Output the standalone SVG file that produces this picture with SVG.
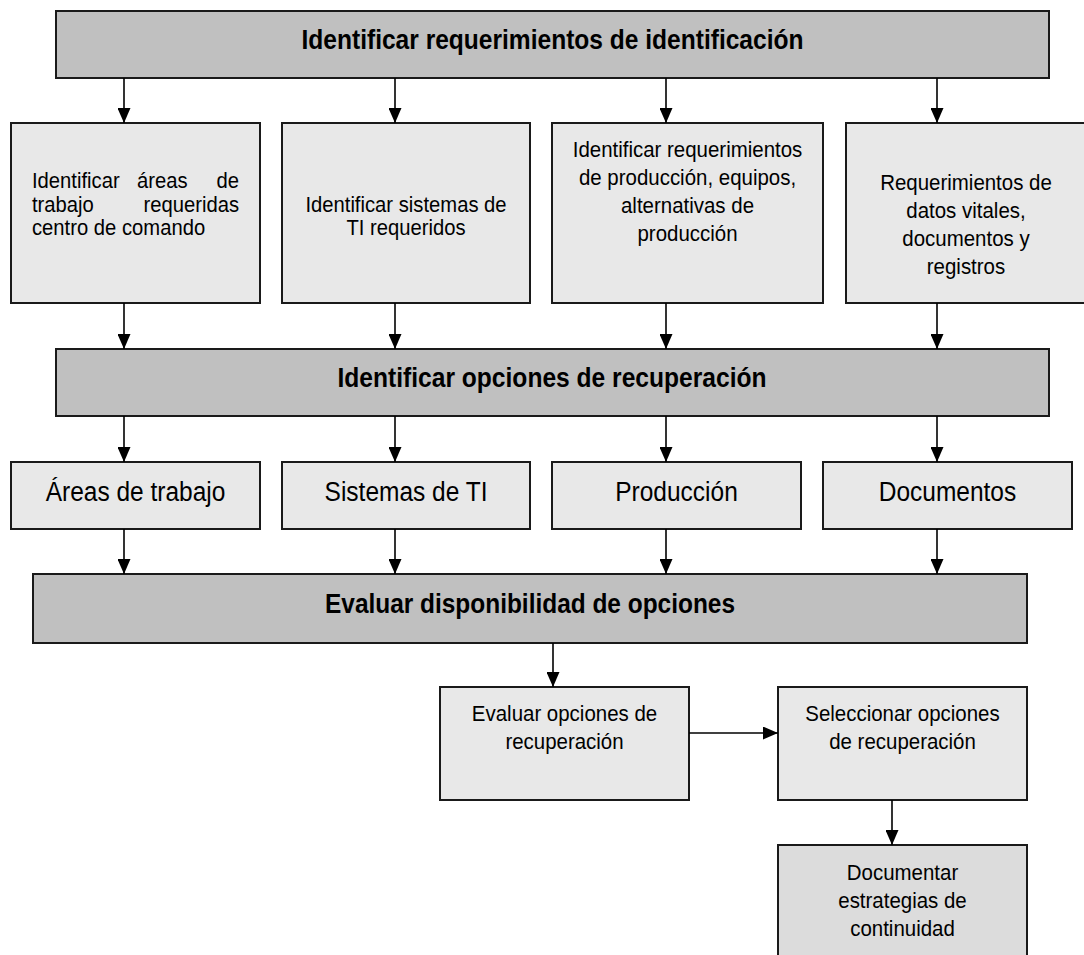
<svg xmlns="http://www.w3.org/2000/svg" width="1084" height="955" viewBox="0 0 1084 955">
  <style>
    .bar { fill: #c0c0c0; stroke: #1a1a1a; stroke-width: 2; }
    .box { fill: #e8e8e8; stroke: #1a1a1a; stroke-width: 2; }
    .box-dark { fill: #dcdcdc; stroke: #1a1a1a; stroke-width: 2; }
    .title { font-family: "Liberation Sans", Arial, sans-serif; font-weight: bold; font-size: 28px; fill: #000; }
    .t22 { font-family: "Liberation Sans", Arial, sans-serif; font-size: 22px; fill: #000; }
    .t28 { font-family: "Liberation Sans", Arial, sans-serif; font-size: 28px; fill: #000; }
    .link { stroke: #000; stroke-width: 1.6; fill: none; marker-end: url(#arrow); }
  </style>
  <defs>
    <marker id="arrow" markerUnits="userSpaceOnUse" markerWidth="15" markerHeight="13" refX="15" refY="6.5" orient="auto">
      <path d="M0,0 L15,6.5 L0,13 z" fill="#000"/>
    </marker>
  </defs>
  <rect width="1084" height="955" fill="#fff"/>

  <!-- Level 1 -->
  <g id="req-identificacion">
    <rect class="bar" x="56" y="11" width="993" height="67"/>
    <text class="title" x="552.5" y="49" text-anchor="middle" textLength="502" lengthAdjust="spacingAndGlyphs">Identificar requerimientos de identificación</text>
  </g>

  <!-- Requirement boxes -->
  <g id="areas-trabajo">
    <rect class="box" x="11" y="123" width="249" height="180"/>
    <text class="t22" transform="translate(32 188) scale(0.92 1)">Identificar</text>
    <text class="t22" transform="translate(137 188) scale(0.92 1)">áreas</text>
    <text class="t22" text-anchor="end" transform="translate(239 188) scale(0.92 1)">de</text>
    <text class="t22" transform="translate(32 212) scale(0.92 1)">trabajo</text>
    <text class="t22" text-anchor="end" transform="translate(239 212) scale(0.92 1)">requeridas</text>
    <text class="t22" transform="translate(32 235) scale(0.92 1)">centro de comando</text>
  </g>
  <g id="sistemas-ti">
    <rect class="box" x="282" y="123" width="248" height="180"/>
    <g transform="translate(406 0) scale(0.92 1)">
      <text class="t22" text-anchor="middle"><tspan x="0" y="212">Identificar sistemas de</tspan><tspan x="0" y="235">TI requeridos</tspan></text>
    </g>
  </g>
  <g id="req-produccion">
    <rect class="box" x="552" y="123" width="271" height="180"/>
    <g transform="translate(687.5 0) scale(0.93 1)">
      <text class="t22" text-anchor="middle"><tspan x="0" y="157">Identificar requerimientos</tspan><tspan x="0" y="185">de producción, equipos,</tspan><tspan x="0" y="213">alternativas de</tspan><tspan x="0" y="241">producción</tspan></text>
    </g>
  </g>
  <g id="req-datos">
    <rect class="box" x="846" y="123" width="240" height="180"/>
    <g transform="translate(966 0) scale(0.93 1)">
      <text class="t22" text-anchor="middle"><tspan x="0" y="190">Requerimientos de</tspan><tspan x="0" y="218">datos vitales,</tspan><tspan x="0" y="246">documentos y</tspan><tspan x="0" y="274">registros</tspan></text>
    </g>
  </g>

  <!-- Level 2 -->
  <g id="opciones-recuperacion">
    <rect class="bar" x="56" y="349" width="993" height="67"/>
    <text class="title" x="552" y="387" text-anchor="middle" textLength="429" lengthAdjust="spacingAndGlyphs">Identificar opciones de recuperación</text>
  </g>

  <!-- Option categories -->
  <g id="opt-areas">
    <rect class="box" x="11" y="462" width="249" height="67"/>
    <text class="t28" text-anchor="middle" transform="translate(135.5 501) scale(0.875 1)">Áreas de trabajo</text>
  </g>
  <g id="opt-sistemas">
    <rect class="box" x="282" y="462" width="248" height="67"/>
    <text class="t28" text-anchor="middle" transform="translate(406 501) scale(0.875 1)">Sistemas de TI</text>
  </g>
  <g id="opt-produccion">
    <rect class="box" x="552" y="462" width="249" height="67"/>
    <text class="t28" text-anchor="middle" transform="translate(676.5 501) scale(0.875 1)">Producción</text>
  </g>
  <g id="opt-documentos">
    <rect class="box" x="823" y="462" width="249" height="67"/>
    <text class="t28" text-anchor="middle" transform="translate(947.5 501) scale(0.875 1)">Documentos</text>
  </g>

  <!-- Level 3 -->
  <g id="evaluar-disponibilidad">
    <rect class="bar" x="33" y="574" width="994" height="69"/>
    <text class="title" x="530" y="613" text-anchor="middle" textLength="410" lengthAdjust="spacingAndGlyphs">Evaluar disponibilidad de opciones</text>
  </g>

  <!-- Final steps -->
  <g id="evaluar-opciones">
    <rect class="box" x="440" y="687" width="249" height="113"/>
    <g transform="translate(564.5 0) scale(0.93 1)">
      <text class="t22" text-anchor="middle"><tspan x="0" y="721">Evaluar opciones de</tspan><tspan x="0" y="749">recuperación</tspan></text>
    </g>
  </g>
  <g id="seleccionar-opciones">
    <rect class="box" x="778" y="687" width="249" height="113"/>
    <g transform="translate(902.5 0) scale(0.93 1)">
      <text class="t22" text-anchor="middle"><tspan x="0" y="721">Seleccionar opciones</tspan><tspan x="0" y="749">de recuperación</tspan></text>
    </g>
  </g>
  <g id="documentar-estrategias">
    <rect class="box-dark" x="778" y="845" width="249" height="120"/>
    <g transform="translate(902.5 0) scale(0.93 1)">
      <text class="t22" text-anchor="middle"><tspan x="0" y="880">Documentar</tspan><tspan x="0" y="908">estrategias de</tspan><tspan x="0" y="936">continuidad</tspan></text>
    </g>
  </g>

  <!-- Connectors -->
  <g id="connectors">
    <line class="link" x1="124" y1="78" x2="124" y2="123"/>
    <line class="link" x1="395" y1="78" x2="395" y2="123"/>
    <line class="link" x1="666" y1="78" x2="666" y2="123"/>
    <line class="link" x1="937" y1="78" x2="937" y2="123"/>

    <line class="link" x1="124" y1="303" x2="124" y2="349"/>
    <line class="link" x1="395" y1="303" x2="395" y2="349"/>
    <line class="link" x1="666" y1="303" x2="666" y2="349"/>
    <line class="link" x1="937" y1="303" x2="937" y2="349"/>

    <line class="link" x1="124" y1="416" x2="124" y2="462"/>
    <line class="link" x1="395" y1="416" x2="395" y2="462"/>
    <line class="link" x1="666" y1="416" x2="666" y2="462"/>
    <line class="link" x1="937" y1="416" x2="937" y2="462"/>

    <line class="link" x1="124" y1="529" x2="124" y2="574"/>
    <line class="link" x1="395" y1="529" x2="395" y2="574"/>
    <line class="link" x1="666" y1="529" x2="666" y2="574"/>
    <line class="link" x1="937" y1="529" x2="937" y2="574"/>

    <line class="link" x1="553" y1="643" x2="553" y2="687"/>
    <line class="link" x1="689" y1="733" x2="778" y2="733"/>
    <line class="link" x1="892" y1="800" x2="892" y2="845"/>
  </g>
</svg>
